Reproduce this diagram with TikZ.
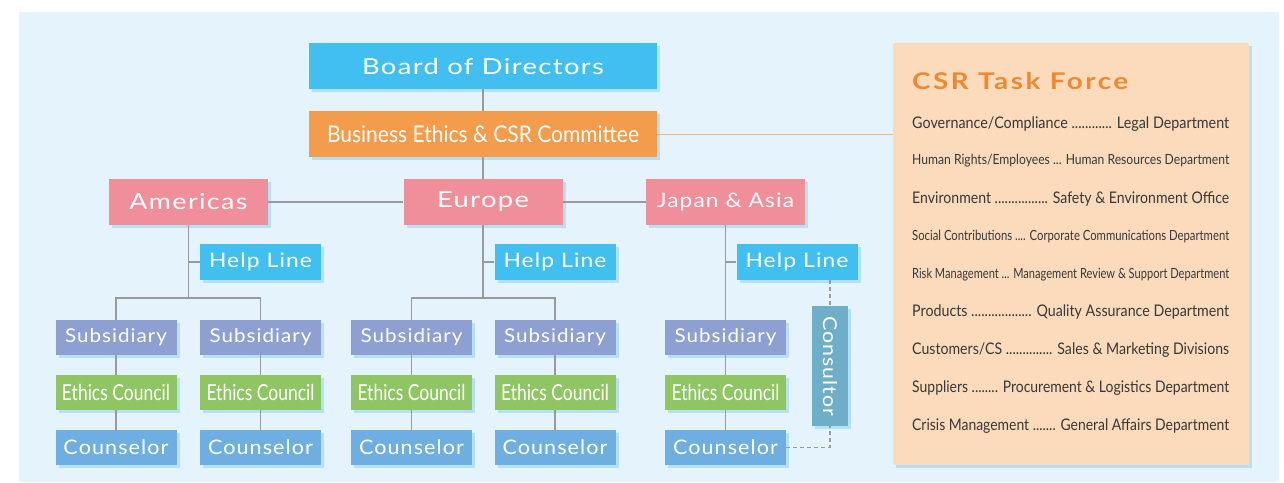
\documentclass[tikz,border=0pt]{standalone}
\usepackage{fontspec}
\setmainfont{Lato}
\newfontfamily\boxfont[LetterSpace=5.0]{Lato}
\newfontfamily\titlefont[LetterSpace=9.0]{Lato}
\usepackage{graphicx}
\usepackage{xcolor}
\usetikzlibrary{shadows}

\definecolor{bgblue}{HTML}{E5F3FC}
\definecolor{shadowblue}{HTML}{B5E0F7}
\definecolor{boardblue}{HTML}{40BFF0}
\definecolor{commorange}{HTML}{F39C4B}
\definecolor{regionpink}{HTML}{F08E99}
\definecolor{subpurple}{HTML}{8E9FD1}
\definecolor{ethicsgreen}{HTML}{8FC663}
\definecolor{counselblue}{HTML}{6FAEE0}
\definecolor{consultteal}{HTML}{6FAEC8}
\definecolor{panelpeach}{HTML}{FBDBBB}
\definecolor{titleorange}{HTML}{EE8A2E}
\definecolor{linegray}{HTML}{9A9A9A}
\definecolor{taskorange}{HTML}{F5B77A}
\definecolor{textgray}{HTML}{383838}

% squeeze or stretch a label to a given width, height kept
\newcommand{\fitw}[2]{\resizebox{#1}{\height}{#2}}
\newcommand{\fsz}[1]{\fontsize{#1}{#1}\selectfont}

\begin{document}
\begin{tikzpicture}
[x=1pt, y=-1pt,
    orgbox/.style={rectangle, inner sep=0pt, text=white, font=\boxfont,
    drop shadow={shadow xshift=3pt, shadow yshift=-3pt, fill=shadowblue, opacity=1}},
    widebox/.style={orgbox, minimum width=348pt, minimum height=46pt},
    regionbox/.style={orgbox, fill=regionpink, minimum width=159pt, minimum height=46pt},
    helpbox/.style={orgbox, fill=boardblue, minimum width=121pt, minimum height=36pt},
    unitbox/.style={orgbox, minimum width=121pt, minimum height=35pt},
    link/.style={draw=linegray, line width=1.5pt},
    dashlink/.style={draw=linegray, line width=1.2pt, dash pattern=on 4pt off 3pt},
    taskline/.style={anchor=west, inner sep=0pt, text=textgray}
    ]

    \useasboundingbox (0,0) rectangle (1284,482);
    \fill[bgblue] (19,12) rectangle (1279,482);

    \node[widebox, fill=boardblue, font=\boxfont\fsz{22}] (board) at (483,66)
        {\fitw{242pt}{Board of Directors}};
    \node[widebox, fill=commorange, font=\fsz{23}] (committee) at (483,134)
        {\fitw{312pt}{Business Ethics \& CSR Committee}};

    \node[regionbox, font=\boxfont\fsz{22}] (americas) at (188.5,202) {\fitw{118pt}{Americas}};
    \node[regionbox, font=\boxfont\fsz{22}] (europe) at (483,202) {\fitw{92pt}{Europe}};
    \node[regionbox, font=\boxfont\fsz{20}] (japan) at (725.5,202) {\fitw{137pt}{Japan \& Asia}};

    \node[helpbox, font=\boxfont\fsz{20}] (helpA) at (260.5,262) {\fitw{103pt}{Help Line}};
    \node[helpbox, font=\boxfont\fsz{20}] (helpE) at (555,262) {\fitw{103pt}{Help Line}};
    \node[helpbox, font=\boxfont\fsz{20}] (helpJ) at (797,262) {\fitw{103pt}{Help Line}};

    \foreach \col/\x in {A1/116, A2/260.5, E1/411.5, E2/555, J/725.5} {
        \node[unitbox, fill=subpurple, font=\boxfont\fsz{19}] (sub\col) at (\x,337.5)
            {\fitw{102pt}{Subsidiary}};
        \node[unitbox, fill=ethicsgreen, font=\fsz{22}] (eth\col) at (\x,392.5)
            {\fitw{108pt}{Ethics Council}};
        \node[unitbox, fill=counselblue, font=\boxfont\fsz{20}] (cns\col) at (\x,447.5)
            {\fitw{105pt}{Counselor}};
        \draw[link] (sub\col) -- (eth\col) -- (cns\col);
    }

    \node[orgbox, fill=consultteal, minimum width=36pt, minimum height=120pt,
        font=\boxfont\fsz{19}] (consultor) at (830,366)
        {\rotatebox{-90}{\fitw{100pt}{Consultor}}};

    % connectors
    \draw[link] (board) -- (committee);
    \draw[link] (committee) -- (europe);
    \draw[link] (americas) -- (europe) -- (japan);

    \coordinate (forkA) at (188.5,298);
    \coordinate (forkE) at (483,298);
    \draw[link] (americas) -- (forkA);
    \draw[link] (helpA) -| (americas);
    \draw[link] (forkA) -| (subA1);
    \draw[link] (forkA) -| (subA2);

    \draw[link] (europe) -- (forkE);
    \draw[link] (helpE) -| (europe);
    \draw[link] (forkE) -| (subE1);
    \draw[link] (forkE) -| (subE2);

    \draw[link] (japan) -- (subJ);
    \draw[link] (helpJ) -| (japan);

    \draw[dashlink] (helpJ.south -| consultor) -- (consultor);
    \draw[dashlink] (cnsJ) -| (consultor);

    % task force panel
    \node[rectangle, fill=panelpeach, minimum width=356pt, minimum height=422pt,
        drop shadow={shadow xshift=3pt, shadow yshift=-3pt, fill=shadowblue, opacity=1}]
        (taskforce) at (1071,254) {};
    \draw[taskorange, line width=1pt] (committee.east) -- (committee.east -| taskforce.west);

    \node[taskline, text=titleorange, font=\titlefont\bfseries\fsz{23}] (tftitle) at (912,81)
        {\fitw{216pt}{CSR Task Force}};

    \foreach \y/\fs/\txt [count=\i] in {
        124/16/{Governance/Compliance ............ Legal Department},
        161/14/{Human Rights/Employees ... Human Resources Department},
        199/16/{Environment ................ Safety \& Environment Office},
        237/14/{Social Contributions .... Corporate Communications Department},
        275/14/{Risk Management ... Management Review \& Support Department},
        312/16/{Products .................. Quality Assurance Department},
        350/16/{Customers/CS .............. Sales \& Marketing Divisions},
        388/16/{Suppliers ........ Procurement \& Logistics Department},
        426/16/{Crisis Management ....... General Affairs Department}} {
        \node[taskline, font=\fsz{\fs}] (task\i) at (912,\y) {\fitw{317pt}{\txt}};
    }
\end{tikzpicture}
\end{document}
